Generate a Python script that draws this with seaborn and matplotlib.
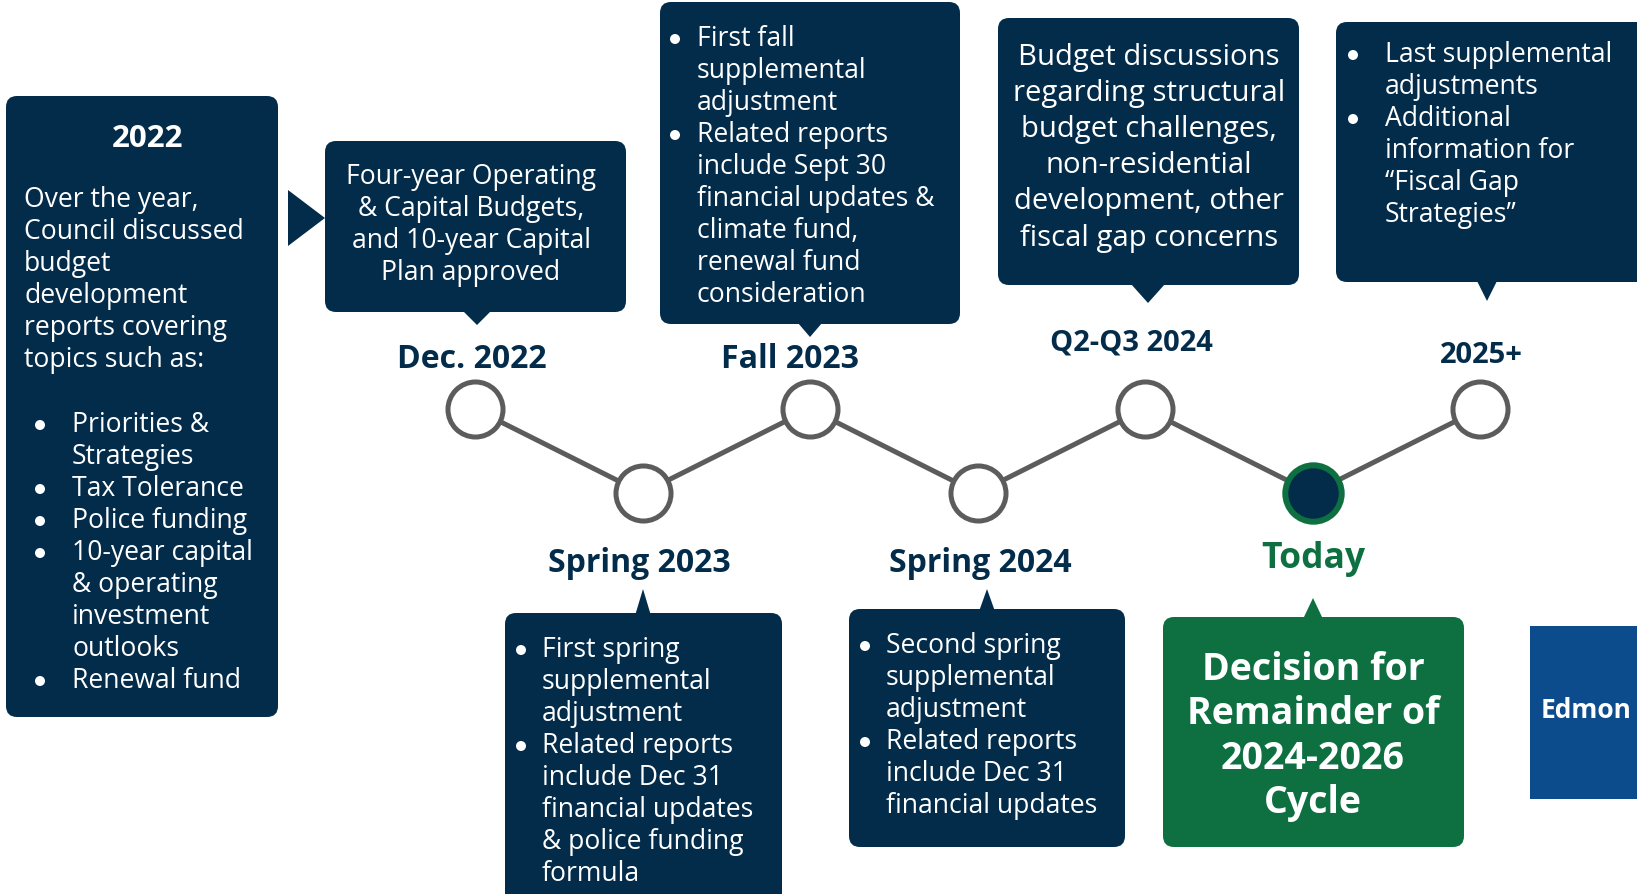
import numpy as np
import pandas as pd
import matplotlib
matplotlib.use("Agg")
import matplotlib.pyplot as plt
import seaborn as sns
from matplotlib.patches import FancyBboxPatch, Polygon, Circle

# Budget cycle timeline
events = ["Dec. 2022", "Spring 2023", "Fall 2023", "Spring 2024", "Q2-Q3 2024", "Today", "2025+"]
order = [0, 1, 2, 3, 4, 5, 6]
level = [1, 0, 1, 0, 1, 0, 1]
is_today = [False, False, False, False, False, True, False]

intro_title = "2022"
intro_lines = ["Over the year,", "Council discussed", "budget", "development",
               "reports covering", "topics such as:"]
intro_topics = [["Priorities &", "Strategies"], ["Tax Tolerance"], ["Police funding"],
                ["10-year capital", "& operating", "investment", "outlooks"], ["Renewal fund"]]

dec22_text = ["Four-year Operating", "& Capital Budgets,", "and 10-year Capital", "Plan approved"]
fall23_items = [["First fall", "supplemental", "adjustment"],
                ["Related reports", "include Sept 30", "financial updates &", "climate fund,",
                 "renewal fund", "consideration"]]
q2q3_text = ["Budget discussions", "regarding structural", "budget challenges,",
             "non-residential", "development, other", "fiscal gap concerns"]
later_items = [["Last supplemental", "adjustments"],
               ["Additional", "information for", "\u201cFiscal Gap", "Strategies\u201d"]]
spr23_items = [["First spring", "supplemental", "adjustment"],
               ["Related reports", "include Dec 31", "financial updates", "& police funding", "formula"]]
spr24_items = [["Second spring", "supplemental", "adjustment"],
               ["Related reports", "include Dec 31", "financial updates"]]
today_text = ["Decision for", "Remainder of", "2024-2026", "Cycle"]
logo_text = "Edmon"

NAVY = "#032c4b"
GREEN = "#0e7041"
GRAY = "#5c5c5c"
W, H = 1637, 895
BODY = 19.1

sns.set_style("white")
plt.rcParams["font.family"] = ["Open Sans", "DejaVu Sans"]

df = pd.DataFrame({"event": events, "order": order, "level": level, "today": is_today})

fig = plt.figure(figsize=(W / 100, H / 100), dpi=100)
ax = fig.add_axes([0, 0, 1, 1])
# node spacing 167.5px, levels 84px apart
ax.set_xlim(-475 / 167.5, (W - 475) / 167.5)
ax.set_ylim(1 - (H - 410) / 84, 1 + 410 / 84)
ax.axis("off")

sns.lineplot(data=df, x="order", y="level", ax=ax, color=GRAY, lw=3.6, zorder=1)
sns.scatterplot(data=df[~df.today], x="order", y="level", ax=ax, s=1570,
                facecolor="white", edgecolor=GRAY, linewidth=3.6, zorder=2)
sns.scatterplot(data=df[df.today], x="order", y="level", ax=ax, s=1650,
                facecolor=NAVY, edgecolor=GREEN, linewidth=4.3, zorder=2)

# overlay in pixel units for the callouts
ov = fig.add_axes([0, 0, 1, 1])
ov.set_xlim(0, W)
ov.set_ylim(H, 0)
ov.axis("off")
ov.patch.set_alpha(0)


def box(x0, y0, x1, y1, color=NAVY, r=11):
    ov.add_patch(FancyBboxPatch((x0 + r, y0 + r), x1 - x0 - 2 * r, y1 - y0 - 2 * r,
                                boxstyle=f"round,pad={r}", fc=color, ec="none"))


def pointer(x, base, tip, w, color=NAVY):
    ov.add_patch(Polygon([(x - w / 2, base), (x + w / 2, base), (x, tip)],
                         closed=True, fc=color, ec="none"))


def lines(x, y0, step, texts, size, ha="center", weight="normal", color="white"):
    for i, t in enumerate(texts):
        ov.text(x, y0 + i * step, t, ha=ha, va="center", fontsize=size,
                fontweight=weight, color=color)


def bullets(xb, xt, y0, step, items, size=BODY):
    row = 0
    for item in items:
        ov.add_patch(Circle((xb, y0 + row * step + 1), 5, fc="white", ec="none"))
        for t in item:
            ov.text(xt, y0 + row * step, t, ha="left", va="center", fontsize=size, color="white")
            row += 1


# left intro box
box(6, 97, 278, 718)
ov.text(148, 139, intro_title, ha="center", va="center", fontsize=22.5,
        fontweight="bold", color="white")
lines(24, 200, 32, intro_lines, BODY, ha="left")
bullets(40, 72, 425, 32, intro_topics)

# arrow into Dec 2022
ov.add_patch(Polygon([(288, 191), (288, 247), (325, 219)], closed=True, fc=NAVY, ec="none"))

# Dec 2022
box(325, 142, 626, 313)
pointer(477, 312, 326, 28)
lines(471, 177, 32, dec22_text, BODY)

# Fall 2023
box(660, 3, 960, 325)
pointer(810, 324, 338, 24)
bullets(675, 697, 39, 32, fall23_items)

# Q2-Q3 2024
box(998, 19, 1299, 286)
pointer(1148, 285, 304, 34)
lines(1149, 57, 36.2, q2q3_text, 21.1)

# 2025+
box(1336, 23, 1660, 283)
pointer(1487, 282, 302, 20)
bullets(1353, 1385, 55, 32, later_items)

# Spring 2023
box(505, 614, 782, 930)
pointer(643, 615, 590, 15)
bullets(521, 542, 650, 32, spr23_items)

# Spring 2024
box(849, 610, 1125, 848)
pointer(987, 611, 590, 15)
bullets(865, 886, 646, 32, spr24_items)

# Today
box(1163, 618, 1464, 848, color=GREEN)
pointer(1313, 619, 599, 19, color=GREEN)
lines(1313, 670, 44.3, today_text, 27, weight="bold")

# timeline labels
label_pos = {"Dec. 2022": (472, 359, 23), "Spring 2023": (639, 563, 23),
             "Fall 2023": (790, 359, 23), "Spring 2024": (980, 563, 23),
             "Q2-Q3 2024": (1131, 343, 21), "Today": (1313, 559, 25.5),
             "2025+": (1481, 355, 21)}
for ev, today in zip(events, is_today):
    x, y, fs = label_pos[ev]
    ov.text(x, y, ev, ha="center", va="center", fontsize=fs, fontweight="bold",
            color=GREEN if today else NAVY)

# city logo tile at the right edge
ov.add_patch(plt.Rectangle((1530, 627), 130, 173, fc="#0d4c8c", ec="none"))
ov.text(1541, 710, logo_text, ha="left", va="center", fontsize=19,
        fontweight="bold", color="white")

fig.savefig("out.png", dpi=100)
